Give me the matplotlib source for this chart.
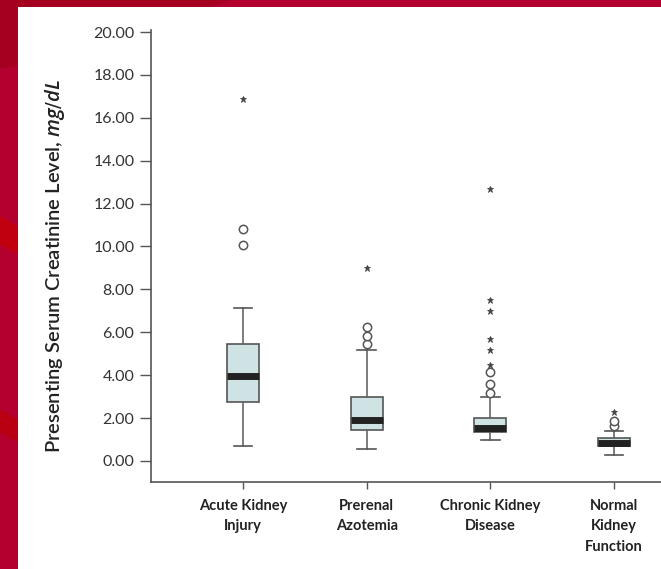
import numpy as np
import matplotlib.pyplot as plt
from matplotlib.patches import Polygon, Rectangle

plt.rcParams['font.family'] = ['Lato', 'DejaVu Sans']
plt.rcParams['mathtext.fontset'] = 'custom'
plt.rcParams['mathtext.it'] = 'Open Sans:italic:semibold'

# data
groups = ["Acute Kidney\nInjury", "Prerenal\nAzotemia", "Chronic Kidney\nDisease", "Normal\nKidney\nFunction"]
whisk_lo = [0.70, 0.56, 0.96, 0.29]
q1 = [2.74, 1.46, 1.34, 0.70]
medians = [3.95, 1.91, 1.56, 0.86]
q3 = [5.47, 3.00, 2.02, 1.09]
whisk_hi = [7.15, 5.19, 2.98, 1.41]
circles = [[10.08, 10.80], [5.47, 5.84, 6.23], [3.16, 3.58, 4.14], [1.65, 1.85]]
stars = [[16.88], [9.01], [4.48, 5.16, 5.69, 6.98, 7.49, 12.68], [2.27]]
yticks = [0, 2, 4, 6, 8, 10, 12, 14, 16, 18, 20]

fig = plt.figure(figsize=(6.61, 5.69), dpi=100)
fig.patch.set_facecolor('#b3002f')
# red backdrop stripes
fig.patches.append(Polygon([(0, 1), (0.35, 1), (0.1, 0.9), (0, 0.88)], closed=True,
                           transform=fig.transFigure, facecolor='#a5001f', edgecolor='none', zorder=-3))
fig.patches.append(Polygon([(0, 0.62), (0.03, 0.6), (0.03, 0.55), (0, 0.57)], closed=True,
                           transform=fig.transFigure, facecolor='#c0000f', edgecolor='none', zorder=-3))
fig.patches.append(Polygon([(0, 0.28), (0.03, 0.26), (0.03, 0.22), (0, 0.24)], closed=True,
                           transform=fig.transFigure, facecolor='#b80012', edgecolor='none', zorder=-3))
fig.patches.append(Rectangle((18 / 661, 0), 1, 1 - 7 / 569, transform=fig.transFigure,
                             facecolor='white', edgecolor='none', zorder=-2))

ax = fig.add_axes([151 / 661, 1 - 482 / 569, 1 - 151 / 661, (482 - 32) / 569])
ax.set_facecolor('none')
ax.set_zorder(1)

pos = np.arange(1, len(groups) + 1)
stats = []
for i in range(len(groups)):
    stats.append(dict(whislo=whisk_lo[i], q1=q1[i], med=medians[i], q3=q3[i],
                      whishi=whisk_hi[i], fliers=circles[i], label=groups[i]))

ax.bxp(stats, positions=pos, widths=0.26, patch_artist=True,
       boxprops=dict(facecolor='#cfe3e5', edgecolor='#555555', linewidth=1.2),
       medianprops=dict(color='#222222', linewidth=5, solid_capstyle='butt'),
       whiskerprops=dict(color='#666666', linewidth=1.2),
       capprops=dict(color='#555555', linewidth=1.2),
       capwidths=0.15,
       flierprops=dict(marker='o', markersize=6, markerfacecolor='white',
                       markeredgecolor='#555555', markeredgewidth=1.1))

for i, s in enumerate(stars):
    ax.plot([pos[i]] * len(s), s, linestyle='none', marker='*', markersize=5,
            color='#444444', markeredgewidth=0.6)

ax.set_ylim(-0.98, 20)
ax.set_xlim(0.256, 4.38)
ax.set_yticks(yticks)
ax.set_yticklabels([f"{v:.2f}" for v in yticks], fontsize=11.5, color='#333333')
ax.set_xticks(pos)
ax.set_xticklabels(groups, fontsize=10.5, fontweight='bold', color='#222222', linespacing=1.6)
ax.tick_params(axis='y', length=8, width=1, color='#555555', pad=4)
ax.tick_params(axis='x', length=5, width=1, color='#555555', pad=7)
for side in ['top', 'right']:
    ax.spines[side].set_visible(False)
for side in ['left', 'bottom']:
    ax.spines[side].set_color('#555555')
    ax.spines[side].set_linewidth(1.2)
ax.spines['left'].set_bounds(-0.98, 20.1)

ax.set_ylabel(r'Presenting Serum Creatinine Level, $\mathit{mg/dL}$', fontsize=14.5,
              fontweight='semibold', color='#222222')
ax.yaxis.set_label_coords(-84 / 510, 0.48)

fig.savefig('out.png', dpi=100, facecolor=fig.get_facecolor())
